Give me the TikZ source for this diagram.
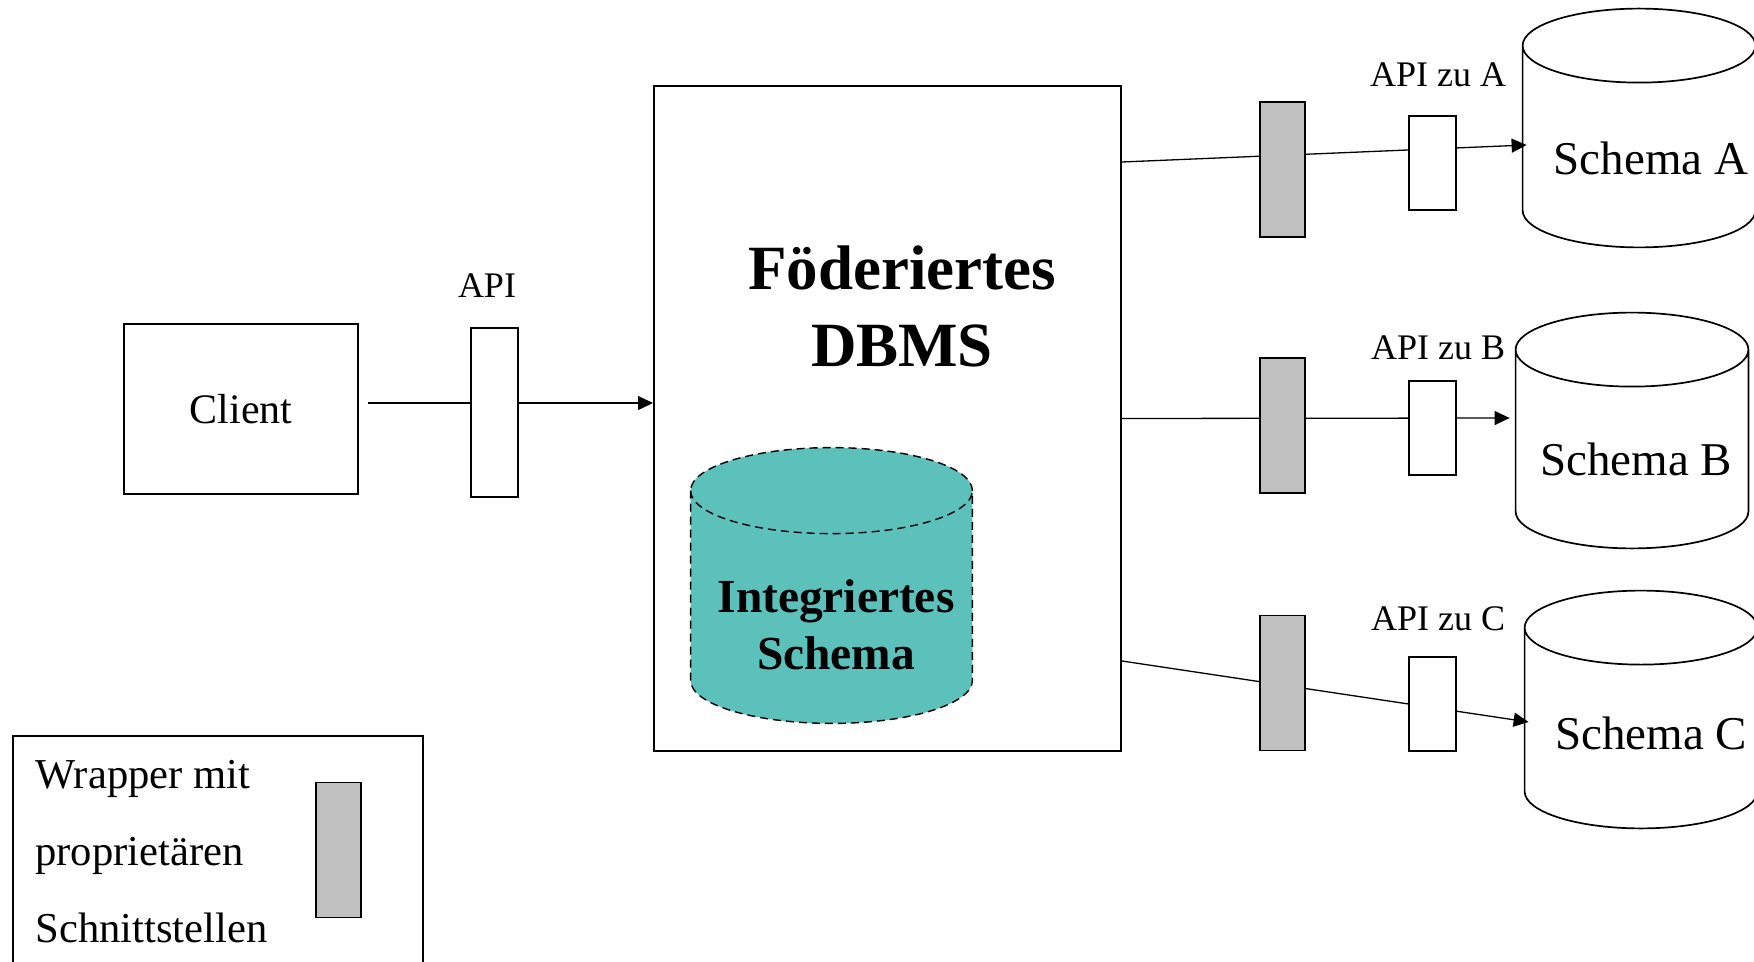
\documentclass[tikz,border=0pt]{standalone}
\usepackage{fontspec}
\setmainfont{Liberation Serif}
\usetikzlibrary{calc,arrows.meta}
\definecolor{wrapgray}{RGB}{192,192,192}
\definecolor{tealfill}{RGB}{92,192,187}
\newcommand\mycyl[3]{%
  \fill[#3] let \p1=(#1.north west), \p2=(#1.south east), \n1={(\x2-\x1)/2} in
    (\x1,{\y1-#2}) -- (\x1,{\y2+#2}) arc[start angle=180,end angle=360,x radius=\n1,y radius=#2]
    -- (\x2,{\y1-#2}) arc[start angle=0,end angle=180,x radius=\n1,y radius=#2] -- cycle;
}
\newcommand\mycylline[3]{%
  \draw[#3] let \p1=(#1.north west), \p2=(#1.south east), \n1={(\x2-\x1)/2} in
    (\x1,{\y1-#2}) -- (\x1,{\y2+#2}) arc[start angle=180,end angle=360,x radius=\n1,y radius=#2]
    -- (\x2,{\y1-#2}) arc[start angle=0,end angle=180,x radius=\n1,y radius=#2] -- cycle
    (\x1,{\y1-#2}) arc[start angle=180,end angle=360,x radius=\n1,y radius=#2];
}
\tikzset{
  boxthin/.style={draw, line width=0.65pt, rectangle, inner sep=0pt},
  apibox/.style={draw, fill=white, line width=0.7pt, minimum width=23.5pt, minimum height=47pt, inner sep=0pt},
  wrapbox/.style={draw, fill=wrapgray, line width=0.7pt, minimum width=22.5pt, minimum height=67.5pt, inner sep=0pt},
  conn/.style={line width=0.65pt},
  arr/.style={conn, -{Triangle[length=7.5pt,width=7pt]}},
  cylnode/.style={inner sep=0pt, minimum width=116pt},
  apilbl/.style={font=\fontsize{18}{20}\selectfont},
  schemalbl/.style={font=\fontsize{23.5}{26}\selectfont},
}
\begin{document}
\begin{tikzpicture}[x=0.5pt,y=-0.5pt]
\useasboundingbox (0,0) rectangle (1754,962);

% client side
\node[boxthin, minimum width=117pt, minimum height=85pt, font=\fontsize{21}{24}\selectfont] (client) at (241,409) {Client};
\node[draw, line width=1pt, minimum width=233.5pt, minimum height=332.5pt, inner sep=0pt] (fed) at (887.5,418.5) {};
\draw[arr] ([xshift=4.5pt,yshift=3pt]client.east) -- ([yshift=7.75pt]fed.west);
\node[apibox, minimum height=84.5pt] (api) at (494.5,412.5) {};
\node[apilbl] (apil) at (487,286) {API};

% federated DBMS
\node[align=center, font=\fontsize{31.5}{38.5}\selectfont\bfseries] (fedtitle) at (902,306) {Föderiertes\\DBMS};
\node[inner sep=0pt, minimum width=140.5pt, minimum height=137.5pt] (integ) at (831.5,585.5) {};
\mycyl{integ}{21.5pt}{tealfill}
\mycylline{integ}{21.5pt}{line width=0.7pt, dash pattern=on 4pt off 2.5pt}
\node[align=center, font=\fontsize{23.7}{28.5}\selectfont\bfseries] (integtext) at ([xshift=2.25pt, yshift=-19.5pt]integ.center) {Integriertes\\Schema};

% databases
\node[cylnode, minimum height=119pt] (cA) at (1639,128) {};
\node[cylnode, minimum height=117.5pt] (cB) at (1632,430.5) {};
\node[cylnode, minimum height=118.5pt] (cC) at (1641,709.5) {};
\mycylline{cA}{18.5pt}{line width=0.85pt, fill=white}
\mycylline{cB}{18.5pt}{line width=0.85pt, fill=white}
\mycylline{cC}{18.5pt}{line width=0.85pt, fill=white}
\node[schemalbl] (tA) at ([xshift=6pt, yshift=-15pt]cA.center) {Schema A};
\node[schemalbl] (tB) at ([xshift=2pt, yshift=-14.5pt]cB.center) {Schema B};
\node[schemalbl] (tC) at ([xshift=5pt, yshift=-12pt]cC.center) {Schema C};

% connectors
\draw[arr] ([yshift=128.25pt]fed.east) -- ([xshift=2pt, yshift=-8.5pt]cA.west);
\draw[arr, shorten >=3pt] (fed.east) -- ([yshift=6.25pt]cB.west);
\draw[arr] ([yshift=-121.25pt]fed.east) -- ([xshift=2pt, yshift=-6.25pt]cC.west);

% wrappers and APIs
\node[wrapbox] (wA) at (1282.5,169.5) {};
\node[wrapbox] (wB) at (1282.5,425.5) {};
\node[wrapbox] (wC) at (1282.5,683) {};
\node[apibox] (aA) at (1432.5,163) {};
\node[apibox] (aB) at (1432.5,428) {};
\node[apibox] (aC) at (1432.5,704) {};
\node[apilbl] (lA) at (1438,75) {API zu A};
\node[apilbl] (lB) at (1438,348) {API zu B};
\node[apilbl] (lC) at (1438,619) {API zu C};

% legend
\node[boxthin, minimum width=205pt, minimum height=119.5pt] (legend) at (218,855.5) {};
\node[wrapbox] (legwrap) at (338.5,850) {};
\node[anchor=west, align=left, inner sep=0pt, font=\fontsize{21.3}{38.5}\selectfont] (legtext) at (35,852) {Wrapper mit\\proprietären\\Schnittstellen};
\end{tikzpicture}
\end{document}
